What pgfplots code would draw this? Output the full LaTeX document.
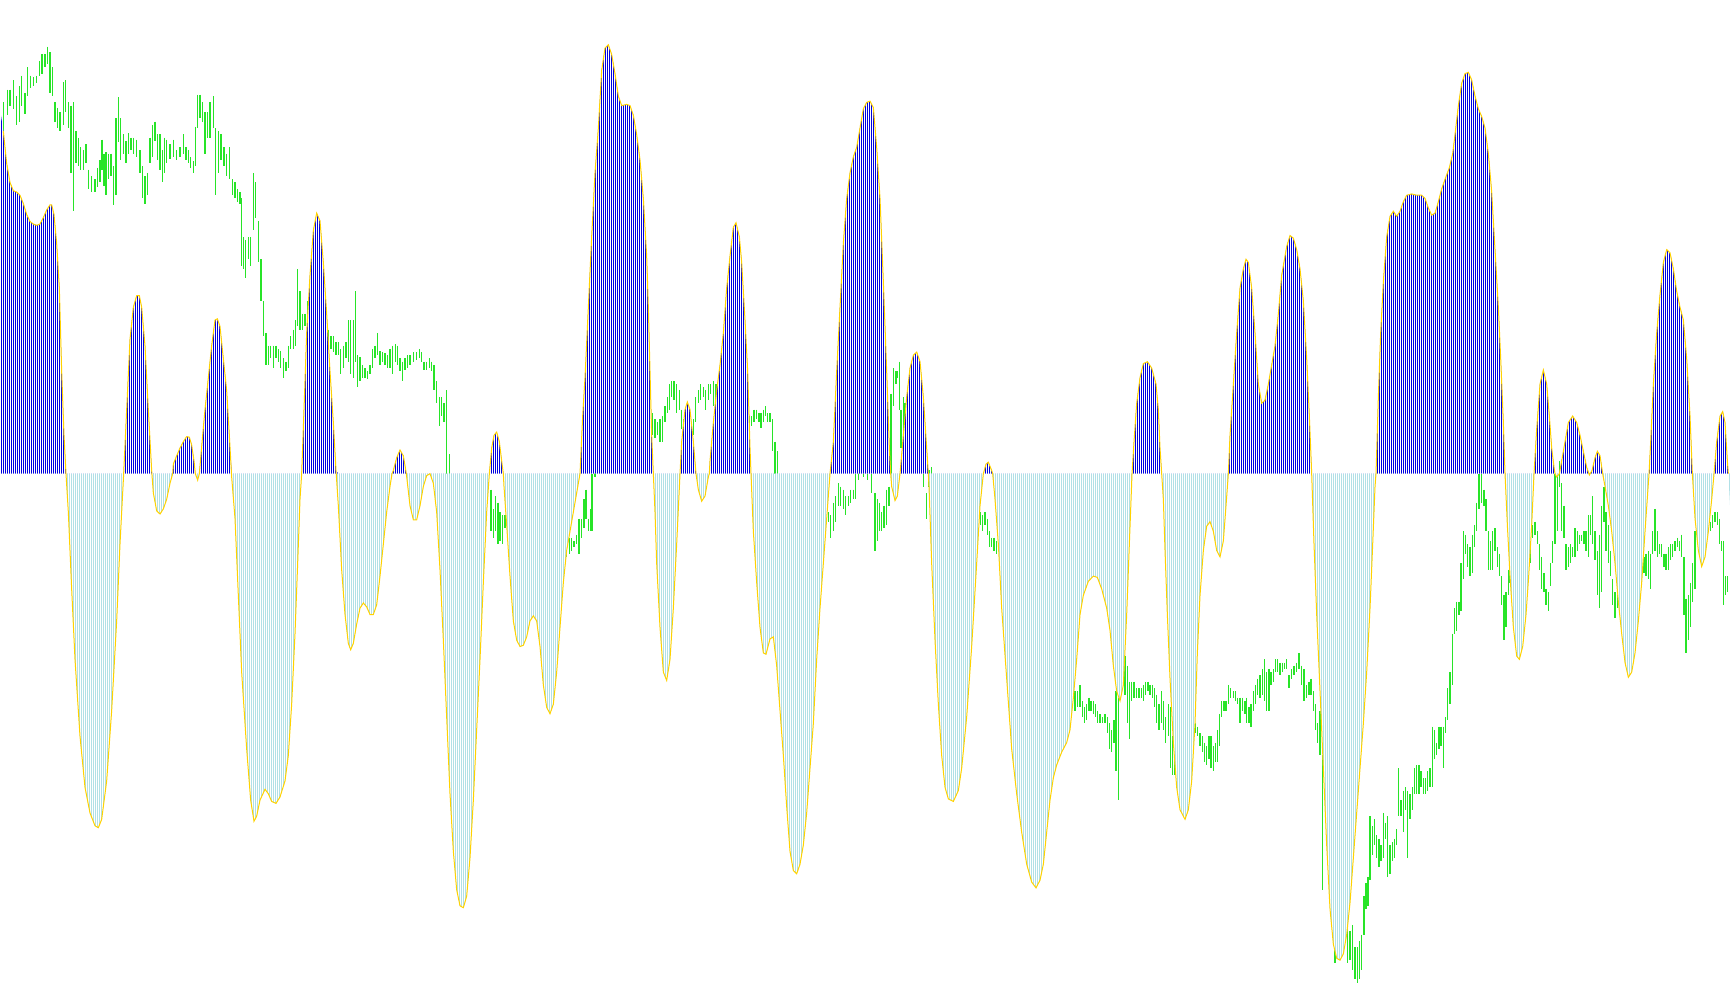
\documentclass[border=0pt]{standalone}
\usepackage{pgfplots}
\usepackage{pgfplotstable}
\pgfplotsset{compat=1.18}
\usetikzlibrary{patterns}

\definecolor{histblue}{RGB}{0,0,225}
\definecolor{histcyan}{RGB}{176,224,230}
\definecolor{pricegreen}{RGB}{40,228,40}
\definecolor{lineyellow}{RGB}{255,210,0}

% thin vertical bars, one every 0.2mm (= 2 px of the final picture); tall tiles, no seams
\pgfdeclarepatternformonly{vbarsb}{\pgfpointorigin}{\pgfpoint{0.2mm}{120mm}}{\pgfpoint{0.2mm}{120mm}}{%
  \pgfpathrectangle{\pgfpointorigin}{\pgfpoint{0.135mm}{120mm}}\pgfusepath{fill}}
\pgfdeclarepatternformonly{vbarsc}{\pgfpointorigin}{\pgfpoint{0.2mm}{120mm}}{\pgfpoint{0.2mm}{120mm}}{%
  \pgfpathrectangle{\pgfpointorigin}{\pgfpoint{0.115mm}{120mm}}\pgfusepath{fill}}

% oscillator, y counted downward, zero line at 740
\pgfplotstableread{
x y
0 740
0 170
10 205
20 255
30 285
40 298
50 300
60 305
70 318
80 335
90 346
100 350
110 352
120 350
130 340
140 328
150 320
155 320
162 335
170 380
178 450
185 580
192 680
198 740
205 800
215 920
225 1030
240 1150
255 1230
270 1270
285 1290
295 1293
305 1280
320 1220
335 1110
350 970
360 850
371 740
380 640
390 530
400 480
410 462
418 462
425 480
435 540
445 640
455 735
460 770
470 798
480 803
490 795
500 780
510 755
518 740
520 725
530 712
540 700
550 690
560 682
568 683
575 695
582 720
586 740
593 750
598 740
608 680
615 640
625 590
635 540
645 500
652 498
660 510
670 560
680 610
688 680
695 745
705 810
715 930
725 1050
740 1170
752 1250
762 1283
770 1275
780 1250
795 1233
805 1240
815 1252
828 1255
840 1245
855 1220
865 1180
875 1100
885 990
893 880
900 780
905 740
912 640
920 520
930 430
940 360
950 333
960 345
970 410
980 490
990 580
1000 660
1008 735
1015 790
1025 890
1035 960
1045 1005
1052 1015
1060 1005
1070 975
1080 950
1090 942
1100 948
1110 960
1120 960
1130 945
1140 900
1150 850
1160 800
1170 760
1176 740
1180 735
1190 715
1200 703
1210 712
1219 740
1230 790
1240 812
1250 812
1260 790
1270 760
1280 743
1290 740
1300 755
1310 800
1320 890
1330 1000
1340 1120
1350 1240
1360 1330
1370 1390
1380 1415
1390 1418
1400 1400
1410 1340
1420 1250
1430 1140
1440 1030
1450 910
1460 800
1468 740
1475 700
1482 680
1490 675
1498 690
1505 720
1510 740
1512 760
1520 820
1530 900
1540 970
1550 1000
1560 1010
1570 1008
1580 995
1590 970
1600 962
1610 970
1620 1010
1630 1070
1640 1105
1650 1115
1660 1100
1670 1050
1680 980
1690 910
1700 860
1710 830
1720 800
1730 770
1740 740
1748 650
1755 590
1765 480
1775 370
1785 270
1795 200
1805 110
1815 75
1825 70
1835 85
1845 115
1855 150
1865 165
1880 163
1890 165
1900 180
1910 210
1920 250
1930 310
1940 400
1945 480
1950 580
1955 680
1960 740
1965 800
1970 880
1980 980
1990 1050
2000 1063
2010 1030
2020 950
2030 850
2040 740
2045 690
2055 640
2062 628
2070 640
2080 690
2088 740
2095 765
2105 783
2115 775
2125 745
2128 740
2130 720
2140 660
2150 610
2160 570
2170 520
2180 450
2190 400
2200 355
2208 348
2218 370
2225 410
2235 500
2243 580
2250 700
2253 740
2260 830
2270 910
2280 980
2290 1020
2298 1022
2310 998
2320 995
2330 1040
2340 1110
2350 1180
2360 1260
2370 1330
2380 1360
2390 1365
2400 1350
2410 1320
2420 1270
2430 1200
2440 1130
2450 1030
2460 950
2470 880
2480 810
2490 740
2500 690
2510 580
2520 480
2530 380
2540 310
2550 270
2560 245
2570 230
2580 200
2590 170
2600 160
2610 158
2620 168
2630 230
2640 310
2650 440
2660 580
2668 700
2672 740
2675 760
2685 782
2692 775
2700 740
2710 680
2720 620
2730 575
2740 555
2750 550
2760 565
2770 620
2780 700
2785 740
2787 760
2795 880
2805 1000
2815 1100
2825 1180
2835 1230
2845 1248
2860 1252
2875 1235
2885 1200
2900 1120
2915 1010
2930 880
2940 790
2950 740
2958 725
2965 722
2975 735
2978 740
2985 780
2995 850
3005 950
3020 1060
3035 1170
3050 1240
3065 1300
3080 1350
3095 1378
3108 1387
3120 1375
3130 1350
3140 1300
3150 1250
3160 1215
3170 1195
3185 1175
3200 1160
3210 1140
3220 1090
3230 1030
3240 960
3250 930
3265 908
3280 900
3292 902
3305 920
3320 950
3330 985
3340 1040
3350 1080
3360 1095
3370 1070
3380 960
3388 850
3396 740
3402 690
3410 630
3420 590
3430 568
3442 565
3455 575
3468 600
3475 640
3480 700
3485 740
3490 780
3495 860
3502 960
3510 1060
3520 1160
3530 1230
3540 1265
3555 1280
3565 1265
3575 1220
3585 1130
3592 1020
3600 930
3610 860
3620 822
3630 815
3640 830
3650 860
3660 870
3670 845
3678 790
3685 740
3690 680
3700 600
3710 520
3720 450
3730 420
3738 405
3745 410
3755 450
3765 520
3775 600
3785 630
3795 625
3805 600
3815 570
3825 540
3835 490
3845 430
3860 385
3870 368
3880 372
3890 390
3900 420
3910 470
3920 560
3928 650
3935 740
3942 850
3950 960
3960 1080
3970 1200
3980 1320
3990 1420
4000 1475
4010 1497
4020 1500
4030 1490
4040 1460
4050 1410
4060 1340
4070 1270
4080 1200
4090 1130
4100 1050
4110 950
4118 850
4125 760
4128 740
4135 620
4142 520
4150 440
4160 370
4170 338
4180 330
4190 338
4200 330
4210 315
4220 305
4235 303
4250 305
4265 305
4275 310
4285 325
4295 336
4305 333
4315 315
4325 295
4335 280
4348 262
4358 240
4365 210
4375 165
4385 130
4395 115
4405 113
4415 125
4425 150
4435 170
4445 182
4455 200
4465 240
4475 300
4485 390
4495 480
4502 560
4510 660
4515 740
4522 820
4530 900
4540 980
4550 1025
4558 1030
4568 1010
4578 960
4586 900
4595 820
4602 740
4610 670
4620 600
4630 578
4640 600
4648 650
4655 700
4662 730
4665 740
4670 745
4678 740
4685 720
4695 690
4705 660
4718 650
4730 660
4740 680
4750 705
4760 730
4768 742
4776 735
4785 715
4792 705
4800 712
4808 740
4815 760
4825 790
4835 830
4845 880
4855 940
4865 990
4875 1035
4885 1058
4895 1050
4905 1020
4915 970
4925 910
4935 830
4947 740
4952 690
4960 600
4970 520
4980 460
4990 410
5000 390
5010 395
5020 420
5030 455
5040 480
5050 500
5060 560
5070 650
5077 740
5085 810
5095 860
5105 885
5115 870
5125 830
5135 780
5142 740
5150 690
5160 650
5168 643
5175 660
5182 720
5185 740
5190 790
5190 740
}\osc

% price bars: x, high, low (same downward scale)
\pgfplotstableread{
x a b
10 160 210
22 140 180
30 140 165
40 125 170
50 150 195
58 135 190
65 118 165
75 145 178
83 105 150
92 118 138
100 120 135
110 118 130
118 95 118
126 85 115
135 85 105
143 73 100
150 82 145
158 105 150
165 160 190
172 168 200
180 175 205
190 128 195
197 125 175
205 160 200
213 165 270
220 160 330
228 205 255
235 215 260
242 230 265
250 235 265
258 225 255
265 265 295
275 275 300
285 280 300
292 262 292
300 250 285
306 218 265
312 240 290
318 238 305
325 240 280
333 240 275
340 260 320
348 185 305
355 152 222
362 185 250
370 210 240
378 220 255
385 208 240
393 215 235
400 215 240
410 218 245
420 235 270
428 260 310
435 275 318
442 270 305
450 215 255
458 195 245
465 190 220
472 210 250
480 210 265
487 235 285
493 215 270
500 218 255
510 225 248
520 218 245
530 235 250
540 230 245
550 210 240
558 230 250
565 235 255
572 245 262
580 252 270
587 198 260
593 148 200
600 148 185
608 160 190
615 175 240
622 175 215
630 160 215
640 150 200
647 200 305
655 205 270
663 210 250
672 230 260
680 240 275
688 230 280
697 280 305
705 285 310
712 295 315
720 300 318
725 310 415
730 370 420
737 375 435
745 370 405
752 370 415
760 270 360
767 285 340
775 345 410
783 405 470
790 470 525
798 520 570
805 540 570
812 540 560
820 540 575
828 540 560
835 545 565
842 548 575
850 560 590
858 565 580
865 540 575
872 525 545
880 515 545
887 500 540
893 420 510
900 455 515
907 490 515
915 490 510
922 470 510
930 520 560
940 530 560
950 520 545
960 510 540
970 505 530
985 515 545
993 525 545
1000 525 550
1008 535 555
1015 535 555
1022 545 585
1030 540 575
1038 535 560
1045 500 565
1052 500 585
1060 500 590
1066 455 565
1073 555 605
1080 558 595
1088 570 590
1095 575 590
1102 580 592
1110 570 585
1118 545 575
1125 540 560
1132 520 555
1140 548 570
1148 550 565
1155 552 570
1162 555 575
1170 545 575
1178 540 585
1186 538 565
1193 540 570
1200 560 580
1207 565 595
1215 560 578
1222 555 575
1230 555 570
1240 550 565
1250 550 562
1258 545 560
1265 550 565
1272 565 578
1280 565 578
1288 560 575
1295 565 580
1302 570 610
1310 595 630
1318 620 665
1325 620 650
1332 630 660
1340 610 740
1348 710 740
1473 765 830
1480 795 840
1487 775 830
1494 785 850
1500 800 845
1508 805 850
1515 805 825
1700 850 870
1708 840 865
1715 840 860
1722 845 855
1730 835 850
1737 810 865
1745 810 840
1752 780 825
1758 765 810
1765 810 830
1772 795 830
1776 740 830
1785 735 745
1958 645 680
1965 655 685
1972 660 680
1980 655 690
1987 650 690
1995 635 660
2002 620 645
2008 600 640
2015 595 620
2022 595 625
2030 600 645
2038 610 640
2045 640 670
2052 655 690
2060 665 700
2070 660 700
2080 655 680
2087 620 660
2095 610 630
2102 600 625
2110 605 620
2117 610 640
2125 600 625
2132 600 615
2140 595 635
2148 600 630
2155 600 610
2240 640 660
2248 650 665
2255 650 665
2262 640 660
2270 640 655
2277 645 660
2283 645 668
2290 640 660
2297 635 650
2303 645 660
2310 645 660
2317 655 705
2325 690 740
2332 705 740
2485 800 815
2492 805 840
2500 785 830
2507 775 815
2515 755 790
2522 760 790
2530 765 795
2537 775 805
2545 775 790
2552 765 785
2560 765 780
2567 740 780
2575 735 750
2590 735 745
2602 740 750
2615 740 770
2625 770 860
2632 780 845
2638 785 830
2645 800 830
2652 790 825
2660 765 820
2667 760 790
2673 615 740
2680 575 635
2688 580 600
2693 580 590
2698 565 640
2703 640 700
2710 620 680
2715 630 670
2770 740 760
2780 770 810
2787 735 760
2794 730 740
2942 800 820
2948 805 830
2955 800 820
2962 810 835
2968 830 855
2975 840 855
2982 840 860
2990 845 865
3225 1080 1110
3232 1080 1105
3240 1070 1105
3247 1095 1120
3253 1105 1130
3260 1100 1125
3267 1090 1110
3273 1095 1110
3280 1095 1115
3287 1100 1120
3293 1110 1130
3300 1115 1130
3307 1120 1130
3315 1115 1130
3322 1120 1145
3328 1130 1170
3335 1140 1175
3342 1125 1160
3348 1080 1205
3355 1090 1250
3375 1025 1085
3382 1040 1130
3388 1065 1155
3395 1065 1095
3402 1065 1090
3410 1075 1090
3417 1075 1090
3424 1075 1090
3430 1070 1095
3437 1065 1085
3444 1065 1080
3450 1070 1085
3457 1070 1090
3464 1075 1105
3470 1085 1130
3477 1100 1140
3484 1080 1130
3490 1095 1140
3497 1120 1160
3505 1100 1150
3512 1105 1200
3518 1150 1210
3525 1170 1210
3585 1130 1145
3592 1135 1150
3600 1145 1165
3607 1150 1175
3614 1160 1190
3620 1165 1195
3627 1150 1185
3633 1150 1200
3640 1165 1205
3646 1160 1190
3652 1140 1190
3658 1115 1165
3665 1095 1120
3672 1095 1110
3678 1095 1110
3685 1070 1100
3692 1075 1090
3700 1080 1090
3707 1080 1095
3713 1090 1100
3720 1090 1130
3727 1090 1110
3735 1095 1115
3740 1090 1130
3747 1105 1130
3753 1100 1135
3760 1080 1110
3767 1070 1100
3773 1060 1085
3780 1055 1090
3787 1045 1085
3793 1030 1095
3800 1050 1110
3807 1045 1110
3813 1050 1070
3820 1045 1065
3827 1030 1050
3833 1030 1050
3840 1035 1055
3847 1035 1050
3853 1035 1045
3860 1030 1045
3867 1055 1075
3875 1045 1060
3882 1040 1055
3890 1035 1050
3897 1020 1045
3905 1040 1070
3912 1045 1095
3920 1070 1090
3927 1065 1085
3933 1060 1085
3940 1080 1110
3947 1100 1140
3953 1130 1160
3960 1110 1180
3967 1180 1390
4005 1480 1505
4042 1450 1505
4050 1455 1500
4057 1445 1515
4065 1480 1530
4072 1480 1535
4078 1470 1530
4085 1460 1515
4092 1400 1460
4098 1380 1420
4104 1370 1415
4110 1275 1375
4117 1290 1335
4123 1280 1320
4130 1305 1340
4137 1310 1355
4143 1320 1345
4150 1270 1340
4157 1285 1310
4163 1275 1370
4170 1320 1365
4177 1315 1345
4183 1310 1340
4190 1295 1320
4195 1200 1275
4203 1250 1275
4210 1235 1300
4217 1230 1265
4223 1235 1340
4230 1240 1280
4237 1230 1265
4243 1200 1240
4250 1195 1240
4257 1195 1240
4263 1205 1230
4270 1215 1240
4277 1215 1240
4283 1205 1235
4290 1200 1230
4297 1135 1230
4303 1140 1185
4310 1160 1180
4317 1135 1170
4323 1135 1165
4330 1135 1200
4337 1120 1145
4343 1075 1125
4350 1050 1100
4357 990 1070
4363 950 990
4370 940 985
4377 940 960
4383 880 955
4390 830 905
4397 835 865
4403 850 885
4410 855 900
4417 835 895
4423 820 855
4430 785 830
4437 740 795
4445 740 785
4452 765 790
4458 780 830
4465 830 890
4472 845 890
4478 830 890
4485 825 860
4492 855 885
4498 865 900
4505 900 945
4512 930 1000
4518 925 980
4525 890 930
4530 870 910
4592 840 880
4598 820 840
4605 815 835
4612 830 850
4618 850 890
4625 870 920
4632 895 925
4638 920 945
4645 925 955
4652 880 915
4658 845 880
4665 740 850
4672 740 830
4678 720 760
4685 755 830
4692 790 840
4698 850 890
4705 855 885
4712 850 880
4718 855 870
4725 825 870
4732 830 860
4738 835 850
4745 835 845
4752 830 850
4758 830 860
4765 805 870
4772 805 835
4778 775 850
4785 830 875
4792 860 930
4798 835 950
4805 790 925
4812 760 815
4818 800 860
4825 820 880
4832 860 900
4838 905 945
4845 925 965
4852 930 950
4932 870 895
4938 865 900
4945 860 905
4952 865 920
4958 830 865
4965 795 860
4972 830 870
4978 850 865
4985 850 870
4992 865 885
4998 865 890
5005 855 890
5012 850 875
5018 850 870
5025 845 860
5032 840 855
5038 845 860
5045 835 870
5052 870 960
5058 935 1020
5065 930 1000
5072 910 980
5078 880 940
5085 830 920
5092 820 840
5098 820 835
5105 815 830
5112 820 835
5118 800 830
5125 810 825
5132 815 830
5138 805 825
5145 800 815
5152 800 820
5158 810 850
5165 845 860
5170 845 945
5177 900 930
5183 900 925
}\price

\begin{document}
\begin{tikzpicture}
\begin{axis}[
    width=17.3cm, height=10.05cm,
    scale only axis,
    hide axis,
    xmin=0, xmax=5190,
    ymin=0, ymax=1570,
    y dir=reverse,
    clip=true,
]
% price bars (high-low), drawn first so the histogram covers them
\addplot[draw=none, mark=none, forget plot,
    error bars/.cd, y dir=plus, y explicit, error mark=none,
    error bar style={pricegreen, line width=0.12mm}]
    table[x=x, y=a, y error expr=\thisrow{b}-\thisrow{a}] {\price};

% histogram area: white under-fill, then blue (positive) and cyan (negative) bars
\addplot[draw=none, fill=white, forget plot] table[x=x, y=y] {\osc};
\addplot[draw=none, pattern=vbarsb, pattern color=histblue, forget plot]
    table[x=x, y expr={min(\thisrow{y},740)}] {\osc};
\addplot[draw=none, pattern=vbarsc, pattern color=histcyan, forget plot]
    table[x=x, y expr={max(\thisrow{y},740)}] {\osc};

% signal line along the bar tops
\addplot[lineyellow, line width=0.1mm, restrict x to domain=1:5189, forget plot]
    table[x=x, y=y] {\osc};
\end{axis}
\path (current axis.south west) rectangle (current axis.north east);
\end{tikzpicture}
\end{document}
